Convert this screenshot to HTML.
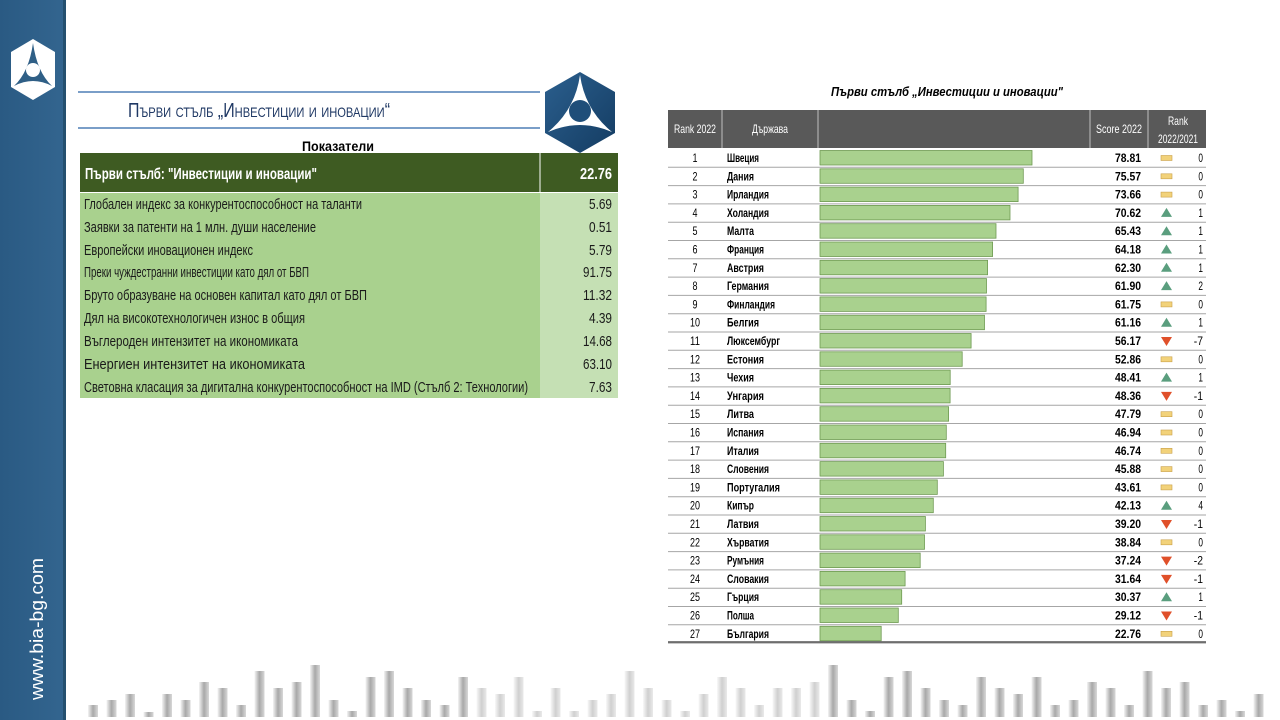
<!DOCTYPE html>
<html><head><meta charset="utf-8"><style>
html,body{margin:0;padding:0;background:#fff;width:1280px;height:720px;overflow:hidden}
svg{display:block}
text{font-family:"Liberation Sans","DejaVu Sans",sans-serif}
</style></head><body>
<svg width="1280" height="720" viewBox="0 0 1280 720" xmlns="http://www.w3.org/2000/svg">
<defs>
<linearGradient id="sb" x1="0" x2="1"><stop offset="0" stop-color="#2a5a83"/><stop offset="1" stop-color="#33658f"/></linearGradient>
<linearGradient id="hx" x1="0" y1="0" x2="1" y2="1"><stop offset="0" stop-color="#2b5f8e"/><stop offset="1" stop-color="#143c62"/></linearGradient>
<linearGradient id="bar" x1="0" x2="1"><stop offset="0" stop-color="#f4f4f4"/><stop offset="0.5" stop-color="#a8a8a8"/><stop offset="1" stop-color="#d8d8d8"/></linearGradient>
</defs>
<rect x="0" y="0" width="65" height="720" fill="url(#sb)"/>
<rect x="63" y="0" width="3" height="720" fill="#24506f"/>
<polygon points="33,39 55,52 55,87 33,100 11,87 11,52" fill="#fff"/>
<path d="M33,43 Q29,72 14,86 Q33,76 52,86 Q37,72 33,43Z" fill="#2f5f86"/>
<circle cx="33" cy="70" r="7" fill="#fff"/>
<text transform="translate(43,700) rotate(-90)" font-size="18" fill="#fff" textLength="142" lengthAdjust="spacingAndGlyphs">www.bia-bg.com</text>

<line x1="78" y1="92" x2="540" y2="92" stroke="#4f7fb5" stroke-width="1.5"/>
<line x1="78" y1="128" x2="540" y2="128" stroke="#4f7fb5" stroke-width="1.5"/>
<text x="128" y="117" font-family="Liberation Serif,serif" font-size="20" font-variant="small-caps" fill="#1f3864" textLength="262" lengthAdjust="spacingAndGlyphs">Първи стълб „Инвестиции и иновации“</text>

<polygon points="580,72 615,92 615,133 580,153 545,133 545,92" fill="url(#hx)"/>
<path d="M580,75 Q575,110 548,132 Q580,118 612,132 Q585,110 580,75Z" fill="#fff"/>
<circle cx="580" cy="111" r="11" fill="#1f4e79"/>

<text x="338" y="151" text-anchor="middle" font-size="14" font-weight="bold" fill="#000" textLength="72" lengthAdjust="spacingAndGlyphs">Показатели</text>
<rect x="80" y="153" width="538" height="39" fill="#3e5b22"/>
<line x1="540" y1="153" x2="540" y2="192" stroke="#fff" stroke-width="1"/>
<text x="85" y="179" font-size="16" font-weight="bold" fill="#fff" textLength="232" lengthAdjust="spacingAndGlyphs">Първи стълб: "Инвестиции и иновации"</text>
<text x="612" y="179" text-anchor="end" font-size="16" font-weight="bold" fill="#fff" textLength="32" lengthAdjust="spacingAndGlyphs">22.76</text>
<rect x="80" y="193" width="460" height="205" fill="#a9d18e"/>
<rect x="540" y="193" width="78" height="205" fill="#c5e0b4"/>
<g font-size="15" fill="#1a1a1a">
<text x="84" y="209" textLength="278" lengthAdjust="spacingAndGlyphs">Глобален индекс за конкурентоспособност на таланти</text><text x="612" y="209" text-anchor="end" textLength="23" lengthAdjust="spacingAndGlyphs">5.69</text>
<text x="84" y="232" textLength="232" lengthAdjust="spacingAndGlyphs">Заявки за патенти на 1 млн. души население</text><text x="612" y="232" text-anchor="end" textLength="23" lengthAdjust="spacingAndGlyphs">0.51</text>
<text x="84" y="255" textLength="169" lengthAdjust="spacingAndGlyphs">Европейски иновационен индекс</text><text x="612" y="255" text-anchor="end" textLength="23" lengthAdjust="spacingAndGlyphs">5.79</text>
<text x="84" y="277" textLength="225" lengthAdjust="spacingAndGlyphs">Преки чуждестранни инвестиции като дял от БВП</text><text x="612" y="277" text-anchor="end" textLength="29" lengthAdjust="spacingAndGlyphs">91.75</text>
<text x="84" y="300" textLength="283" lengthAdjust="spacingAndGlyphs">Бруто образуване на основен капитал като дял от БВП</text><text x="612" y="300" text-anchor="end" textLength="29" lengthAdjust="spacingAndGlyphs">11.32</text>
<text x="84" y="323" textLength="221" lengthAdjust="spacingAndGlyphs">Дял на високотехнологичен износ в общия</text><text x="612" y="323" text-anchor="end" textLength="23" lengthAdjust="spacingAndGlyphs">4.39</text>
<text x="84" y="346" textLength="214" lengthAdjust="spacingAndGlyphs">Въглероден интензитет на икономиката</text><text x="612" y="346" text-anchor="end" textLength="29" lengthAdjust="spacingAndGlyphs">14.68</text>
<text x="84" y="369" textLength="221" lengthAdjust="spacingAndGlyphs">Енергиен интензитет на икономиката</text><text x="612" y="369" text-anchor="end" textLength="29" lengthAdjust="spacingAndGlyphs">63.10</text>
<text x="84" y="392" textLength="444" lengthAdjust="spacingAndGlyphs">Световна класация за дигитална конкурентоспособност на IMD (Стълб 2: Технологии)</text><text x="612" y="392" text-anchor="end" textLength="23" lengthAdjust="spacingAndGlyphs">7.63</text>
</g>

<text x="947" y="96" text-anchor="middle" font-size="13" font-weight="bold" font-style="italic" fill="#000" textLength="232" lengthAdjust="spacingAndGlyphs">Първи стълб „Инвестиции и иновации"</text>
<rect x="668" y="110" width="538" height="38" fill="#595959"/>
<g stroke="#bfbfbf" stroke-width="1"><line x1="722" y1="110" x2="722" y2="148"/><line x1="818" y1="110" x2="818" y2="148"/><line x1="1090" y1="110" x2="1090" y2="148"/><line x1="1148" y1="110" x2="1148" y2="148"/></g>
<g font-size="12" fill="#fff" text-anchor="middle">
<text x="695" y="133" textLength="42" lengthAdjust="spacingAndGlyphs">Rank 2022</text>
<text x="770" y="133" textLength="36" lengthAdjust="spacingAndGlyphs">Държава</text>
<text x="1119" y="133" textLength="46" lengthAdjust="spacingAndGlyphs">Score 2022</text>
<text x="1178" y="125" textLength="20" lengthAdjust="spacingAndGlyphs">Rank</text>
<text x="1178" y="143" textLength="40" lengthAdjust="spacingAndGlyphs">2022/2021</text>
</g>
<g id="rows" font-size="12" font-weight="bold" fill="#000">
</g>
<line x1="668" y1="642" x2="1206" y2="642" stroke="#555" stroke-width="1.5"/>

<g id="deco"></g>
</svg>
<script>
var d=[["Швеция",78.81,0],["Дания",75.57,0],["Ирландия",73.66,0],["Холандия",70.62,1],["Малта",65.43,1],["Франция",64.18,1],["Австрия",62.30,1],["Германия",61.90,2],["Финландия",61.75,0],["Белгия",61.16,1],["Люксембург",56.17,-7],["Естония",52.86,0],["Чехия",48.41,1],["Унгария",48.36,-1],["Литва",47.79,0],["Испания",46.94,0],["Италия",46.74,0],["Словения",45.88,0],["Португалия",43.61,0],["Кипър",42.13,4],["Латвия",39.20,-1],["Хърватия",38.84,0],["Румъния",37.24,-2],["Словакия",31.64,-1],["Гърция",30.37,1],["Полша",29.12,-1],["България",22.76,0]];
var s="";
for(var i=0;i<d.length;i++){var t=149+i*18.3,c=t+13;var r=d[i];
s+='<line x1="668" y1="'+(t+18.3)+'" x2="1206" y2="'+(t+18.3)+'" stroke="#a6a6a6" stroke-width="1"/>';
s+='<rect x="820" y="'+(t+1.5)+'" width="'+(r[1]*2.69).toFixed(1)+'" height="14.5" fill="#a9d18e" stroke="#6e9a52" stroke-width="0.8"/>';
var rs=String(i+1);
s+='<text x="695" y="'+c+'" text-anchor="middle" font-weight="normal" textLength="'+(rs.length*5)+'" lengthAdjust="spacingAndGlyphs">'+rs+'</text>';
s+='<text x="727" y="'+c+'" textLength="'+(r[0].length*5.3).toFixed(0)+'" lengthAdjust="spacingAndGlyphs">'+r[0]+'</text>';
s+='<text x="1141" y="'+c+'" text-anchor="end" textLength="26" lengthAdjust="spacingAndGlyphs">'+r[1].toFixed(2)+'</text>';
var cs=String(r[2]);
s+='<text x="1203" y="'+c+'" text-anchor="end" font-weight="normal" textLength="'+(cs.length*4.6)+'" lengthAdjust="spacingAndGlyphs">'+cs+'</text>';
var m=t+9;
if(r[2]==0)s+='<rect x="1161" y="'+(m-2.5)+'" width="11" height="5" fill="#f2d27a" stroke="#c9a14a" stroke-width="0.6"/>';
else if(r[2]>0)s+='<polygon points="1166.5,'+(m-5)+' 1172,'+(m+4)+' 1161,'+(m+4)+'" fill="#5a9e7e"/>';
else s+='<polygon points="1161,'+(m-4)+' 1172,'+(m-4)+' 1166.5,'+(m+5)+'" fill="#e0502a"/>';
}
document.getElementById("rows").innerHTML=s;
var h=[12,17,23,5,23,17,35,29,12,46,29,35,52,17,6,40,46,29,17,12,40,29,23,40,6,29,6,17,23,46,29,17,6,23,40,29,12,29,29,35,52,17,6,40,46,29,17,12,40,29,23,40,12,17,35,29,12,46,29,35,12,17,6,23];
var g="";for(var j=0;j<h.length;j++){var x=88+j*18.5;if(x>1258)break;var op=(j>20&&j<40)?0.55:1;
g+='<rect x="'+x.toFixed(1)+'" y="'+(717-h[j])+'" width="10" height="'+h[j]+'" fill="url(#bar)" opacity="'+op+'"/>';}
document.getElementById("deco").innerHTML=g;
</script>
</body></html>
